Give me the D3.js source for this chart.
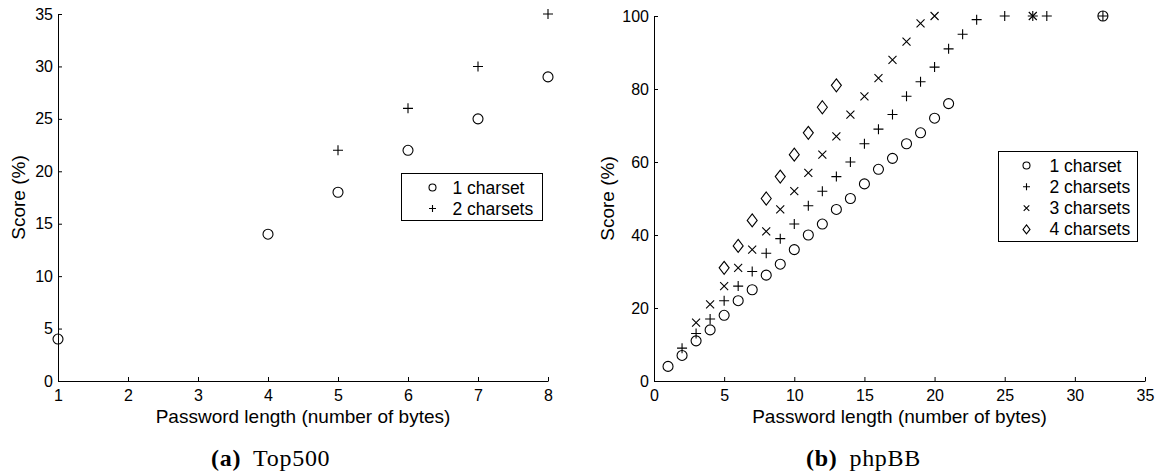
<!DOCTYPE html>
<html>
<head>
  <meta charset="utf-8">
  <style type="text/css">
    body { margin: 0; background: #fff; }
    .tick text { font-family: "Liberation Sans", Arial, sans-serif; font-size: 16px; fill: #000; }
    .tick line, .domain { stroke: #000; stroke-width: 1; }
    .label { font-family: "Liberation Sans", Arial, sans-serif; font-size: 19px; fill: #000; }
    .leg { font-family: "Liberation Sans", Arial, sans-serif; font-size: 17.5px; fill: #000; }
    .cap { font-family: "Liberation Serif", "DejaVu Serif", serif; font-size: 24px; letter-spacing: 0.7px; fill: #000; }
    .mk { fill: none; stroke: #000; stroke-width: 1.1; }
  </style>
  <script src="https://d3js.org/d3.v7.min.js"></script>
</head>
<body>
<div id="chart"></div>
<script type="text/javascript">
  // Top500 data (password length -> score %)
  var top500OneX = [1, 4, 5, 6, 7, 8];
  var top500OneY = [4, 14, 18, 22, 25, 29];
  var top500TwoX = [5, 6, 7, 8];
  var top500TwoY = [22, 26, 30, 35];

  // phpBB data
  var phpOneX = [1, 2, 3, 4, 5, 6, 7, 8, 9, 10, 11, 12, 13, 14, 15, 16, 17, 18, 19, 20, 21, 32];
  var phpOneY = [4, 7, 11, 14, 18, 22, 25, 29, 32, 36, 40, 43, 47, 50, 54, 58, 61, 65, 68, 72, 76, 100];
  var phpTwoX = [2, 3, 4, 5, 6, 7, 8, 9, 10, 11, 12, 13, 14, 15, 16, 17, 18, 19, 20, 21, 22, 23, 25, 27, 28, 32];
  var phpTwoY = [9, 13, 17, 22, 26, 30, 35, 39, 43, 48, 52, 56, 60, 65, 69, 73, 78, 82, 86, 91, 95, 99, 100, 100, 100, 100];
  var phpThreeX = [3, 4, 5, 6, 7, 8, 9, 10, 11, 12, 13, 14, 15, 16, 17, 18, 19, 20, 27];
  var phpThreeY = [16, 21, 26, 31, 36, 41, 47, 52, 57, 62, 67, 73, 78, 83, 88, 93, 98, 100, 100];
  var phpFourX = [5, 6, 7, 8, 9, 10, 11, 12, 13];
  var phpFourY = [31, 37, 44, 50, 56, 62, 68, 75, 81];

  var top500Ticks = [1, 2, 3, 4, 5, 6, 7, 8];
  var top500YTicks = [0, 5, 10, 15, 20, 25, 30, 35];
  var phpTicks = [0, 5, 10, 15, 20, 25, 30, 35];
  var phpYTicks = [0, 20, 40, 60, 80, 100];

  var seriesNames1 = ["1 charset", "2 charsets"];
  var seriesNames2 = ["1 charset", "2 charsets", "3 charsets", "4 charsets"];

  // marker path generators, s = scale factor
  function marker(type, s) {
    if (type === "o") {
      var r = 5 * s;
      return "M" + (-r) + ",0A" + r + "," + r + " 0 1,0 " + r + ",0A" + r + "," + r + " 0 1,0 " + (-r) + ",0Z";
    }
    if (type === "+") {
      var a = 5 * s;
      return "M" + (-a) + ",0H" + a + "M0," + (-a) + "V" + a;
    }
    if (type === "x") {
      var b = 4 * s;
      return "M" + (-b) + "," + (-b) + "L" + b + "," + b + "M" + (-b) + "," + b + "L" + b + "," + (-b);
    }
    var w = 5 * s, h = 6.5 * s;
    return "M0," + (-h) + "L" + w + ",0L0," + h + "L" + (-w) + ",0Z";
  }

  var svg = d3.select("#chart").append("svg")
    .attr("width", 1163)
    .attr("height", 475);

  function panel(cfg) {
    var x = d3.scaleLinear().domain(cfg.xDomain).range(cfg.xRange);
    var y = d3.scaleLinear().domain(cfg.yDomain).range(cfg.yRange);
    var g = svg.append("g");
    var fmt = d3.format("d");

    g.append("g")
      .attr("transform", "translate(0," + cfg.yRange[0] + ")")
      .call(d3.axisBottom(x).tickValues(cfg.xTicks).tickFormat(fmt).tickSizeInner(-4).tickSizeOuter(0).tickPadding(9));
    g.append("g")
      .attr("transform", "translate(" + cfg.xRange[0] + ",0)")
      .call(d3.axisLeft(y).tickValues(cfg.yTicks).tickFormat(fmt).tickSizeInner(-4).tickSizeOuter(0).tickPadding(5));

    cfg.series.forEach(function(s) {
      g.selectAll(null)
        .data(s.xs.map(function(v, i) { return [v, s.ys[i]]; }))
        .enter().append("path")
          .attr("class", "mk")
          .attr("transform", function(d) { return "translate(" + x(d[0]) + "," + y(d[1]) + ")"; })
          .attr("d", marker(s.type, 1));
    });

    // axis labels
    g.append("text").attr("class", "label")
      .attr("x", (cfg.xRange[0] + cfg.xRange[1]) / 2)
      .attr("y", 422.5)
      .attr("text-anchor", "middle")
      .text("Password length (number of bytes)");
    g.append("text").attr("class", "label")
      .attr("transform", "translate(" + cfg.yLabelX + "," + ((cfg.yRange[0] + cfg.yRange[1]) / 2) + ") rotate(-90)")
      .attr("text-anchor", "middle")
      .text("Score (%)");

    // legend
    var L = cfg.legend;
    g.append("rect")
      .attr("x", L.x).attr("y", L.y).attr("width", L.w).attr("height", L.h)
      .attr("fill", "#fff").attr("stroke", "#000").attr("stroke-width", 1);
    cfg.series.forEach(function(s, i) {
      var cy = L.y + L.first + i * L.step;
      g.append("path").attr("class", "mk")
        .attr("transform", "translate(" + (L.x + L.mx) + "," + cy + ")")
        .attr("d", marker(s.type, 0.7));
      g.append("text").attr("class", "leg")
        .attr("x", L.x + L.tx)
        .attr("y", cy + 6)
        .text(s.name);
    });

    // caption
    var cap = g.append("text").attr("class", "cap")
      .attr("x", cfg.capX).attr("y", 465.5);
    cap.append("tspan").attr("font-weight", "bold").text(cfg.capTag);
    cap.append("tspan").attr("dx", 12).text(cfg.capName);
  }

  panel({
    xDomain: [1, 8], xRange: [58, 548],
    yDomain: [0, 35], yRange: [381, 14],
    xTicks: top500Ticks, yTicks: top500YTicks,
    yLabelX: 25,
    series: [
      { name: seriesNames1[0], type: "o", xs: top500OneX, ys: top500OneY },
      { name: seriesNames1[1], type: "+", xs: top500TwoX, ys: top500TwoY }
    ],
    legend: { x: 401.5, y: 173.5, w: 141, h: 47, first: 14, step: 21, mx: 31, tx: 51 },
    capX: 211, capTag: "(a)", capName: "Top500"
  });

  panel({
    xDomain: [0, 35], xRange: [654, 1145],
    yDomain: [0, 100], yRange: [381, 16],
    xTicks: phpTicks, yTicks: phpYTicks,
    yLabelX: 614,
    series: [
      { name: seriesNames2[0], type: "o", xs: phpOneX, ys: phpOneY },
      { name: seriesNames2[1], type: "+", xs: phpTwoX, ys: phpTwoY },
      { name: seriesNames2[2], type: "x", xs: phpThreeX, ys: phpThreeY },
      { name: seriesNames2[3], type: "d", xs: phpFourX, ys: phpFourY }
    ],
    legend: { x: 998.5, y: 151.5, w: 139, h: 90, first: 14, step: 21.3, mx: 28, tx: 51 },
    capX: 806, capTag: "(b)", capName: "phpBB"
  });
</script>
</body>
</html>
